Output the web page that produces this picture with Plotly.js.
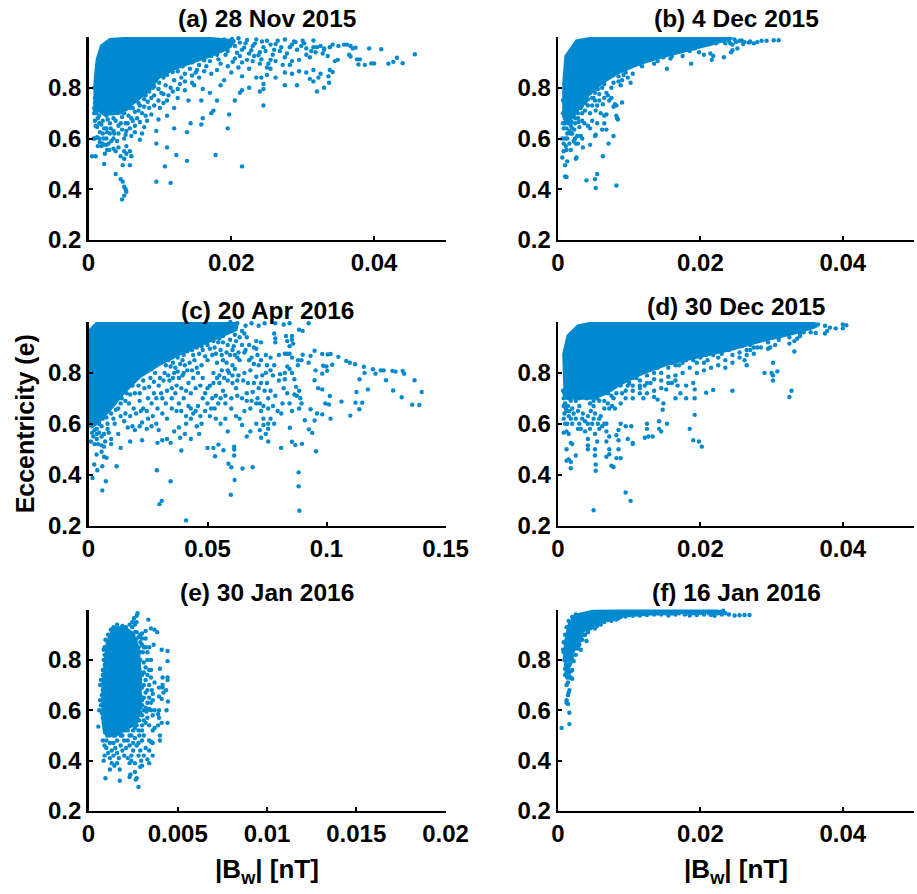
<!DOCTYPE html>
<html><head><meta charset="utf-8">
<script src="https://cdn.plot.ly/plotly-3.0.1.min.js"></script>
<style>html,body{margin:0;padding:0;background:#fff}</style></head>
<body><div id="chart" style="width:917px;height:894px"></div>
<script>
const titles=["(a) 28 Nov 2015","(b) 4 Dec 2015","(c) 20 Apr 2016","(d) 30 Dec 2015","(e) 30 Jan 2016","(f) 16 Jan 2016"];
const yTicks=[0.2,0.4,0.6,0.8];
const xTicksStd=[0,0.02,0.04], xLabelsStd=["0","0.02","0.04"];
const xTicksC=[0,0.05,0.1,0.15], xLabelsC=["0","0.05","0.1","0.15"];
const xTicksE=[0,0.005,0.01,0.015,0.02], xLabelsE=["0","0.005","0.01","0.015","0.02"];

// Saturated (fully overlapping) regions, outlines
const coreA=[[.0009,.72],[.0009,.82],[.0012,.91],[.0018,.965],[.003,.99],[.0063,.997],[.016,.997],[.0205,.985],[.0195,.955],[.017,.925],[.0145,.9],[.012,.875],[.0098,.84],[.0085,.79],[.0065,.745],[.0045,.7],[.0022,.695]];
const coreB=[[.0008,.68],[.0008,.818],[.0011,.924],[.0026,.985],[.005,.997],[.0245,.997],[.022,.975],[.0185,.95],[.015,.925],[.0115,.895],[.0085,.86],[.0062,.82],[.0042,.77],[.0026,.71],[.0014,.66]];
const coreC=[[.0008,.585],[.0034,.6],[.009,.655],[.0146,.72],[.0216,.785],[.03,.835],[.0385,.875],[.047,.91],[.0553,.945],[.062,.97],[.0625,.995],[.0035,.995],[.0008,.97]];
const coreD=[[.001,.7],[.0008,.874],[.0014,.946],[.0028,.985],[.005,.997],[.036,.997],[.036,.98],[.033,.955],[.0285,.925],[.024,.89],[.02,.865],[.016,.84],[.012,.8],[.009,.76],[.0068,.72],[.005,.7],[.0022,.7]];
const coreE=[[.0008,.56],[.0008,.7],[.00105,.87],[.0014,.925],[.00195,.93],[.0025,.905],[.0028,.84],[.0029,.74],[.0029,.62],[.0027,.55],[.0015,.5],[.0009,.51]];
const coreF=[[.0009,.79],[.00105,.872],[.0016,.945],[.0028,.98],[.005,.994],[.0097,.997],[.0225,.996],[.0222,.988],[.0167,.988],[.0106,.983],[.0078,.972],[.005,.94],[.0033,.91],[.0024,.86],[.0017,.8]];

const pointsA=[[.0457,.932],[.044,.897],[.0432,.918],[.0427,.902],[.042,.895],[.041,.952],[.04,.896],[.0396,.896],[.0393,.955],[.0387,.89],[.038,.912],[.0378,.892],[.0376,.912],[.0374,.958],[.037,.955],[.0367,.965],[.0367,.923],[.0365,.93],[.0362,.97],[.0358,.97],[.035,.965],[.0349,.91],[.0345,.905],[.0342,.97],[.0338,.96],[.033,.955],[.0335,.925],[.033,.95],[.0325,.965],[.032,.96],[.0315,.96],[.0312,.945],[.031,.92],[.0305,.93],[.03,.985],[.0298,.965],[.029,.98],[.0285,.97],[.0282,.96],[.0295,.91],[.0285,.905],[.0275,.92],[.027,.96],[.0265,.985],[.026,.95],[.0255,.97],[.025,.985],[.0245,.96],[.024,.94],[.0235,.99],[.023,.965],[.0225,.935],[.022,.975],[.0215,.95],[.021,.995],[.0205,.965],[.02,.985],[.0195,.945],[.019,.99],[.0185,.965],[.018,.93],[.0175,.96],[.017,.98],[.0165,.95],[.016,.925],[.0155,.965],[.015,.91],[.0255,.91],[.025,.88],[.024,.895],[.023,.905],[.0225,.875],[.0215,.9],[.021,.88],[.0205,.915],[.0195,.885],[.0185,.895],[.018,.87],[.017,.905],[.0165,.885],[.0155,.89],[.0145,.9],
[.0342,.862],[.0338,.87],[.0336,.845],[.0337,.82],[.0325,.855],[.0315,.87],[.031,.835],[.0305,.86],[.0295,.865],[.0292,.81],[.0285,.855],[.0275,.86],[.0275,.81],[.0262,.84],[.0255,.875],[.025,.85],[.0242,.84],[.0245,.815],[.0235,.84],[.024,.785],[.0245,.795],[.0245,.73],[.0225,.8],[.0215,.845],[.0215,.79],[.0212,.78],[.0205,.75],[.0197,.695],[.02,.86],[.019,.83],[.0185,.81],[.018,.75],[.0175,.71],[.0172,.7],[.017,.78],[.016,.795],[.0158,.75],[.016,.68],[.0158,.655],[.0195,.64],[.0215,.49],[.0178,.535],[.0143,.66],[.0138,.625],[.0138,.512],[.0123,.535],[.0115,.425],[.0107,.49],[.0095,.43],
[.033,.8],[.032,.785],[.0315,.825],[.0322,.84],
[.015,.86],[.0145,.82],[.014,.75],[.0135,.79],[.013,.84],[.0125,.76],[.012,.72],[.012,.64],[.0115,.8],[.011,.75],[.011,.69],[.011,.565],[.0105,.84],[.0102,.78],[.01,.72],[.0098,.675],[.0095,.63],[.0095,.58],[.009,.8],[.0088,.76],[.0085,.72],[.0082,.67],[.008,.81],[.0078,.755],[.0075,.7],[.0075,.62],[.0072,.595],[.007,.74],[.0068,.68],[.0065,.65],[.0062,.72],[.006,.68],[.006,.61],[.006,.53],[.0058,.55],[.0055,.74],[.0055,.66],[.0053,.63],[.0053,.57],[.005,.7],[.005,.6],[.005,.55],[.005,.41],[.0052,.4],[.0053,.39],[.005,.375],[.0048,.43],[.0047,.36],[.0048,.495],[.0058,.495],[.0045,.44],[.0038,.46],[.0022,.5],[.0045,.66],[.0042,.62],[.004,.7],[.004,.59],[.0038,.55],[.0035,.68],[.0035,.63],[.0035,.6],[.0035,.56],[.003,.71],[.003,.66],[.003,.62],[.0028,.58],[.0025,.69],[.0025,.64],[.0025,.6],[.0023,.54],[.002,.67],[.002,.62],[.002,.58],[.0015,.66],[.0015,.6],[.0013,.57],[.001,.65],[.0007,.6],[.001,.53],[.0005,.53],[.0012,.72],[.0008,.7],[.0018,.71],[.0015,.69]];
const denseA=[[.0145,.987],[.0152,.975],[.0163,.991],[.0172,.972],[.0182,.984],[.0192,.97],[.0201,.992],[.0212,.978],[.0222,.988],[.0233,.974],[.0243,.982],[.0262,.972],[.0275,.99],[.0288,.982],[.0302,.975],[.0315,.986],[.0148,.955],[.0158,.945],[.0168,.962],[.0178,.94],[.0188,.952],[.0198,.964],[.0208,.938],[.0218,.958],[.0228,.948],[.0238,.928],[.0248,.945],[.0258,.93],[.0268,.945],[.0278,.935],[.0292,.95],[.0305,.955],[.0318,.94],[.0328,.935],[.0136,.935],[.0142,.915],[.0152,.93],[.0162,.908],[.0172,.925],[.0182,.912],[.0192,.93],[.0202,.902],[.0212,.925],[.0222,.91],[.0232,.925],[.0242,.912],[.0252,.895],[.0262,.905],[.0272,.89],[.0282,.89],[.0128,.92],[.0122,.898],[.0132,.885],[.0142,.875],[.0152,.87],[.0162,.865],[.0172,.855],[.0112,.875],[.0118,.862],[.0125,.865],[.0135,.855],[.0145,.848],[.0155,.84],[.0098,.865],[.0104,.858],[.011,.85],[.012,.83],[.0128,.815],[.0135,.825],[.0148,.81],[.0095,.84],[.0099,.82],[.0108,.81],[.0118,.785],[.0125,.795],[.0088,.825],[.0092,.805],[.0098,.795],[.0105,.775],[.0112,.77],[.0075,.78],[.008,.77],[.0085,.785],[.0092,.77],[.0098,.75],[.0105,.74],[.0068,.76],[.0072,.73],[.0078,.725],[.0083,.745],[.0092,.73],[.0062,.75],[.0058,.72],[.0065,.705],[.007,.71],[.008,.69],[.0088,.695],[.0048,.73],[.0052,.715],[.0056,.69],[.0062,.67],[.0072,.665],[.0078,.645],[.0038,.72],[.0042,.705],[.0047,.685],[.0052,.66],[.0058,.64],[.0065,.625],[.0028,.72],[.0033,.7],[.0038,.67],[.0042,.65],[.0047,.635],[.0052,.615],[.0018,.73],[.0022,.705],[.0027,.675],[.0031,.64],[.0036,.62],[.0011,.7],[.0013,.68],[.0018,.655],[.0022,.64],[.0026,.625],[.0009,.67],[.0012,.645],[.0016,.625],[.0021,.6],[.0025,.575],[.0016,.585],[.0018,.57],[.0021,.575],[.0032,.59],[.0009,.6],[.0012,.605],[.0042,.565],[.0045,.53],[.005,.52],[.0053,.54],[.0026,.555],[.0029,.555],[.0009,.76],[.0008,.8],[.0009,.74],[.0008,.72],[.0009,.71]];

const pointsB=[[.031,.987],[.0303,.987],[.0293,.985],[.0286,.985],[.028,.98],[.0275,.975],[.027,.982],[.0262,.98],[.026,.972],[.0255,.985],[.025,.98],[.0245,.97],[.024,.985],[.0235,.975],[.0252,.955],[.0245,.948],[.0243,.94],[.0233,.92],[.0218,.925],[.0216,.91],[.0214,.935],[.0205,.93],[.0198,.94],[.0192,.955],[.0185,.945],[.0187,.895],[.0175,.925],[.0168,.95],[.016,.925],[.0158,.915],[.0153,.875],[.0148,.92],[.014,.905],[.0135,.895],[.0128,.91],[.012,.905],[.0118,.885],[.0105,.855],[.0102,.82],[.0098,.84],[.0095,.86],[.009,.83],[.0088,.81],[.0085,.825],[.008,.86],[.0078,.82],[.0075,.8],[.0072,.845],[.0068,.78],[.0065,.815],[.0055,.87],[.0052,.84],[.009,.742],[.0082,.73],[.0084,.675],[.0083,.68],[.0082,.69],[.008,.735],[.0078,.725],[.0075,.76],[.0072,.75],[.007,.77],[.0068,.695],[.0065,.69],[.0063,.735],[.006,.7],[.0058,.75],[.0055,.73],[.0053,.71],[.0052,.78],[.005,.76],[.0048,.73],[.0045,.78],[.0042,.73],[.004,.75],[.0038,.71],[.0036,.79],[.0034,.67],[.003,.75],[.0028,.68],[.0026,.71],[.0024,.66],[.002,.7],[.0018,.65],[.0015,.68],[.001,.66],[.0008,.64],[.0012,.64],[.0065,.66],[.0062,.635],[.0055,.66],[.0053,.615],[.0052,.61],[.0048,.67],[.0045,.64],[.0042,.65],[.0037,.66],[.0034,.6],[.0032,.61],[.003,.645],[.0028,.58],[.0027,.61],[.0025,.58],[.0024,.6],[.0022,.59],[.002,.64],[.0018,.62],[.0016,.58],[.0013,.6],[.0011,.57],[.001,.6],[.0008,.58],[.0006,.6],[.0008,.55],[.0006,.525],[.0012,.555],[.0018,.555],[.0025,.52],[.0026,.525],[.0013,.51],[.001,.495],[.001,.45],[.0012,.448],[.0035,.565],[.0045,.575],[.0068,.635],[.0078,.61],[.0071,.58],[.0063,.53],[.0082,.415],[.0055,.46],[.0052,.44],[.004,.435],[.0053,.405],[.0022,.69],[.0032,.72],[.0045,.7]];
const denseB=[[.0248,.99],[.0258,.986],[.0268,.978],[.0242,.975],[.0232,.985],[.0222,.975],[.0212,.972],[.0205,.985],[.0198,.968],[.0188,.958],[.0178,.965],[.0172,.945],[.0165,.958],[.0158,.94],[.015,.935],[.0143,.925],[.0136,.918],[.0128,.925],[.0122,.915],[.0115,.895],[.0108,.9],[.01,.885],[.0095,.895],[.0088,.875],[.0082,.87],[.0078,.85],[.0072,.868],[.0068,.85],[.0092,.85],[.0085,.845],[.0062,.84],[.0058,.82],[.0062,.8],[.0056,.795],[.0052,.81],[.0048,.8],[.0045,.815],[.0042,.775],[.0038,.77],[.0034,.76],[.0032,.75],[.003,.725],[.0026,.73],[.0022,.715],[.0018,.7],[.0014,.665],[.0011,.68],[.0009,.66],[.0034,.73],[.0038,.74],[.0028,.7],[.0048,.76],[.0042,.755],[.0052,.75],[.0058,.775],[.0065,.76],[.0034,.7],[.0029,.665],[.0023,.635],[.002,.62],[.0016,.63],[.0013,.62],[.0024,.68],[.0019,.665],[.0007,.7],[.0007,.66],[.0007,.75]];

const pointsC=[[.14,.725],[.139,.674],[.136,.675],[.137,.771],[.1316,.704],[.128,.731],[.1326,.797],[.132,.808],[.129,.805],[.1277,.808],[.125,.771],[.124,.81],[.1228,.81],[.1206,.797],[.1195,.814],[.1174,.735],[.116,.8],[.1157,.824],[.1139,.775],[.1126,.725],[.115,.683],[.1122,.683],[.1138,.657],[.11,.632],[.1063,.687],[.112,.834],[.1098,.84],[.1083,.847],[.105,.863],[.1017,.874],[.1005,.872],[.0982,.874],[.095,.887],[.0933,.867],[.09,.871],[.1024,.832],[.1,.825],[.0986,.828],[.1003,.808],[.0982,.797],[.0954,.81],[.095,.771],[.0982,.735],[.0965,.74],[.1014,.709],[.101,.676],[.0995,.68],[.1017,.62],[.0982,.637],[.096,.64],[.0933,.657],[.0909,.614],[.095,.613],[.0926,.578],[.094,.564],[.0956,.492],[.0897,.521],[.0869,.516],[.0855,.529],[.0846,.584],[.0809,.505],[.0883,.409],[.0883,.354],[.0886,.258],[.069,.429],[.0647,.424],[.0598,.321],[.0614,.379],[.06,.429],[.0588,.443],[.0612,.475],[.0612,.499],[.0612,.51],[.0532,.472],[.0525,.505],[.05,.505],[.0546,.518],[.0567,.496],[.041,.22],[.0345,.374],[.0308,.297],[.0298,.284],[.0287,.417],[.0073,.374],[.0058,.338],[.0017,.387],[.0037,.417],[.0024,.44],[.0058,.433],[.0118,.433],[.0034,.479],[.0076,.466],[.0065,.47],[.0055,.49],
[.0596,1],[.0625,.995],[.066,.985],[.0685,.995],[.0715,.985],[.074,.995],[.0785,.995],[.082,.99],[.0845,.995],[.0885,.97],[.0925,.995],[.09,.965],[.0605,.97],[.0615,.95],[.0655,.955],[.0665,.94],[.0705,.925],[.0705,.895],[.0725,.92],[.078,.955],[.0785,.935],[.0785,.92],[.083,.945],[.0835,.925],[.0845,.905],[.0855,.93],[.0855,.945],[.086,.915],[.08,.87],[.0825,.875],[.0835,.875],[.0845,.875],[.0855,.86],[.088,.85],[.0895,.85],[.0925,.84],[.088,.83],[.0835,.825],[.0845,.815],[.0825,.8],[.0805,.795],[.078,.83],[.0765,.86],[.0745,.87],[.0715,.83],[.0695,.835],[.0675,.85],[.0655,.88],[.063,.88],[.0615,.87],[.0595,.87],[.058,.88],[.0565,.92],[.0555,.89],[.0545,.92],[.053,.9],[.052,.94],[.05,.91],[.0635,.85],[.0605,.83],[.058,.84],[.0565,.85],[.054,.84],[.052,.87],[.05,.85],[.048,.89],[.046,.92],[.044,.87],[.042,.9],[.04,.87],[.0385,.88],[.0365,.88],[.035,.86],[.0315,.86],[.0525,.8],[.055,.79],[.057,.78],[.059,.8],[.0615,.815],[.063,.79],[.0655,.8],[.068,.81],[.0705,.785],[.073,.79],[.075,.76],[.0775,.79],[.0825,.775],[.0855,.8],[.0865,.775],[.0872,.745],[.0865,.715],[.0885,.73],[.0875,.71],[.089,.7],[.0835,.72],[.082,.74],[.08,.77],[.0785,.71],[.0765,.73],[.074,.73],[.0715,.74],[.069,.725],[.0665,.72],[.0645,.7],[.062,.74],[.0605,.76],[.0585,.77],[.0565,.73],[.055,.76],[.0535,.71],[.052,.7],[.05,.74],[.048,.78],[.046,.8],[.044,.78],[.042,.76],[.04,.8],[.038,.78],[.036,.8],[.034,.77],[.032,.8],[.03,.78],[.028,.8],[.026,.78],[.023,.77],[.021,.75],[.0185,.75],[.016,.72],[.014,.7],
[.0895,.68],[.0885,.66],[.072,.68],[.0735,.67],[.0755,.66],[.0705,.68],[.068,.66],[.0655,.65],[.0635,.62],[.0645,.595],[.0665,.55],[.0705,.6],[.072,.575],[.0725,.65],[.0735,.62],[.0735,.595],[.0745,.56],[.0755,.53],[.0725,.545],[.068,.57],[.062,.63],[.06,.66],[.0575,.68],[.0555,.7],[.053,.66],[.051,.63],[.05,.68],[.048,.7],[.046,.67],[.044,.64],[.042,.67],[.04,.7],[.038,.68],[.0365,.72],[.035,.7],[.0325,.68],[.0305,.72],[.029,.66],[.0275,.72],[.025,.7],[.023,.66],[.0215,.69],[.019,.66],[.017,.68],[.0155,.64],[.0125,.66],[.0105,.62],[.008,.6],[.006,.62],[.0045,.6],[.0035,.58],[.002,.55],[.0035,.54],[.0055,.55],[.0065,.56],[.008,.58],[.0095,.54],[.0125,.56],[.0165,.585],[.0185,.59],[.0195,.575],[.0215,.59],[.0225,.605],[.0245,.58],[.0265,.59],[.0285,.6],[.0295,.575],[.0225,.535],[.0175,.53],[.0135,.505],[.0095,.52],[.0065,.51],[.029,.525],[.031,.535],[.033,.54],[.0345,.525],[.036,.57],[.038,.585],[.041,.6],[.043,.62],[.0455,.59],[.0475,.6],[.0465,.56],[.0405,.56],[.0385,.545],[.043,.54],[.039,.495],[.0535,.62],[.0575,.62],[.0555,.6],[.0585,.57]];
const denseC=[[.057,.99],[.0555,.975],[.058,.965],[.054,.958],[.0565,.945],[.0595,.93],[.062,.925],[.0635,.94],[.0645,.965],[.061,.905],[.0585,.91],[.055,.935],[.0525,.925],[.049,.93],[.0475,.905],[.0455,.9],[.051,.895],[.0535,.875],[.056,.87],[.0605,.89],[.0625,.86],[.0435,.89],[.0415,.885],[.0395,.85],[.0375,.86],[.0355,.84],[.0335,.85],[.0465,.875],[.049,.865],[.0445,.85],[.0425,.84],[.0405,.83],[.0385,.835],[.0365,.82],[.0345,.825],[.0325,.83],[.0305,.84],[.0285,.83],[.0265,.815],[.0245,.81],[.0225,.8],[.0205,.79],[.0185,.775],[.0165,.755],[.0145,.73],[.0125,.71],[.0105,.68],[.0085,.655],[.0065,.64],[.0045,.615],[.0475,.83],[.0455,.82],[.0435,.81],[.0415,.81],[.0395,.79],[.0375,.805],[.0355,.78],[.0335,.79],[.0315,.77],[.0295,.75],[.0275,.765],[.0255,.745],[.0235,.74],[.0215,.72],[.0195,.72],[.0175,.715],[.0155,.69],[.0135,.68],[.0115,.655],[.0095,.64],[.0075,.625],[.0055,.59],[.0025,.575],[.0035,.56],[.0045,.565],[.0015,.565],[.001,.53],[.0025,.52],[.004,.52],[.0055,.515],[.007,.53],[.0085,.565],[.011,.6],[.0135,.63],[.015,.61],[.0175,.63],[.02,.64],[.022,.65],[.0245,.65],[.0265,.68],[.0285,.7],[.031,.7],[.033,.73],[.035,.74],[.037,.75],[.039,.74],[.041,.73],[.043,.72],[.045,.74],[.047,.75],[.049,.72],[.051,.75],[.0525,.76],[.054,.78],[.056,.81],[.0585,.81],[.0605,.79],[.0625,.77],[.065,.77],[.067,.76],[.0695,.76],[.0625,.71],[.06,.7],[.0575,.71],[.0545,.68],[.0515,.66],[.049,.65],[.047,.63],[.045,.65],[.043,.66],[.041,.63],[.039,.65],[.037,.65],[.035,.66],[.033,.62],[.031,.64],[.027,.63],[.025,.62],[.0665,.69],[.0685,.69],[.071,.7],[.0755,.7],[.0775,.67],[.0795,.65],[.0765,.62],[.0755,.6],[.078,.6],[.0755,.58],[.081,.64],[.0815,.68],[.0845,.68],[.0855,.65],[.0725,.76],[.0745,.8],[.0765,.81],[.0685,.86],[.071,.87],[.0725,.85],[.075,.83],[.0695,.9],[.0675,.91],[.066,.89],[.0645,.91]];

const pointsD=[[.0405,.987],[.04,.99],[.04,.975],[.039,.975],[.0382,.978],[.0375,.985],[.0362,.985],[.0355,.99],[.0355,.96],[.0362,.957],[.0375,.955],[.0378,.965],[.0345,.96],[.034,.955],[.0336,.935],[.0325,.94],[.0325,.915],[.0332,.925],[.0332,.884],[.0325,.96],[.031,.93],[.0305,.91],[.0298,.9],[.0295,.92],[.0285,.93],[.028,.9],[.0275,.875],[.027,.89],[.0265,.87],[.0262,.85],[.0265,.83],[.0255,.86],[.0245,.84],[.0235,.85],[.0225,.86],[.0215,.89],[.0205,.84],[.021,.85],[.0195,.84],[.0185,.86],[.0175,.84],[.0165,.83],[.0155,.82],[.0145,.8],[.0135,.8],[.0125,.79],[.0115,.77],[.029,.8],[.0302,.84],[.03,.8],[.0302,.79],[.0302,.77],[.0308,.806],[.0325,.705],[.0328,.73],[.0245,.73],[.0218,.733],[.0208,.722],[.019,.76],[.0192,.735],[.0192,.7],[.018,.75],[.018,.7],[.0172,.72],[.0168,.75],[.0165,.7],[.016,.76],[.0152,.735],[.0148,.68],[.014,.695],[.0135,.705],[.013,.76],[.0125,.72],[.012,.7],[.0115,.74],[.011,.78],[.0105,.7],[.01,.76],[.0095,.7],[.009,.72],[.0088,.68],[.0085,.76],[.008,.66],[.0078,.7],[.0075,.74],[.007,.68],[.0065,.66],[.0062,.72],[.006,.63],[.0058,.62],[.0055,.7],[.005,.67],[.005,.62],[.0048,.6],[.0045,.68],[.0042,.63],[.004,.7],[.0035,.64],[.003,.67],[.003,.6],[.0025,.62],[.0025,.69],[.002,.66],[.002,.6],[.0015,.63],[.0012,.65],[.001,.68],[.0008,.7],[.001,.6],[.0012,.57],[.0008,.565],[.0015,.56],[.0018,.62],[.0018,.69],
[.0192,.635],[.0185,.58],[.019,.535],[.0202,.51],[.0198,.53],[.0147,.655],[.0153,.6],[.0142,.61],[.0142,.58],[.0145,.57],[.0125,.6],[.0133,.55],[.0127,.55],[.0122,.545],[.0125,.58],[.0105,.52],[.0098,.54],[.0105,.525],[.0103,.59],[.0095,.59],[.0088,.6],[.0085,.575],[.0082,.555],[.0085,.535],[.0085,.5],[.0082,.465],[.0075,.435],[.0072,.5],[.0072,.55],[.0072,.48],[.0068,.6],[.0068,.57],[.0068,.53],[.0068,.47],[.0055,.53],[.0052,.5],[.0052,.475],[.0042,.54],[.0042,.515],[.0042,.5],[.0018,.525],[.002,.52],[.0012,.5],[.0015,.46],[.0018,.45],[.0012,.455],[.0018,.425],[.0025,.475],[.0053,.44],[.0053,.415],[.0078,.43],[.0088,.465],[.0095,.33],[.0102,.297],[.005,.26]];
const denseD=[[.0365,.99],[.0345,.985],[.0352,.975],[.0335,.97],[.034,.945],[.032,.955],[.0312,.945],[.0302,.94],[.029,.935],[.0278,.925],[.027,.91],[.0258,.905],[.0248,.9],[.024,.89],[.023,.875],[.0218,.87],[.0208,.87],[.02,.86],[.019,.85],[.018,.85],[.017,.83],[.016,.84],[.015,.84],[.014,.82],[.0133,.82],[.0122,.81],[.0112,.805],[.0105,.78],[.0098,.785],[.0092,.77],[.0098,.75],[.0105,.75],[.0115,.75],[.0125,.76],[.0135,.775],[.0145,.77],[.0155,.785],[.0165,.79],[.0175,.8],[.0185,.82],[.0195,.8],[.0205,.81],[.0215,.82],[.0225,.83],[.0235,.82],[.0245,.87],[.0255,.88],[.0265,.89],[.0275,.9],[.0285,.9],[.0295,.895],[.0088,.75],[.0082,.72],[.0075,.71],[.007,.72],[.0065,.73],[.0058,.735],[.0052,.72],[.0045,.73],[.0038,.74],[.0032,.73],[.0025,.74],[.0018,.735],[.0012,.73],[.0009,.72],[.0007,.73],[.0035,.71],[.003,.7],[.0025,.71],[.002,.72],[.0015,.7],[.001,.71],[.0045,.71],[.005,.69],[.0058,.69],[.0065,.69],[.0072,.66],[.0076,.67],[.0014,.67],[.0016,.65],[.0011,.66],[.0009,.64],[.0022,.64],[.0028,.65],[.0034,.62],[.0038,.61],[.0042,.6],[.0046,.65],[.0052,.64],[.0056,.6],[.0062,.59],[.0065,.6],[.0028,.58],[.0032,.58],[.0038,.57],[.0008,.62],[.0013,.6],[.0008,.67],[.0045,.58],[.0052,.56],[.0058,.58],[.0095,.73],[.0105,.73],[.0115,.72],[.0122,.75],[.0135,.73],[.0145,.74],[.0155,.76],[.0165,.77]];

const pointsE=[[.00443,.835],[.00443,.795],[.00443,.73],[.00443,.72],[.00435,.68],[.00445,.635],[.00437,.6],[.00443,.55],[.0041,.84],[.004,.765],[.00415,.73],[.00415,.7],[.00415,.69],[.00395,.69],[.00395,.655],[.0042,.67],[.0041,.645],[.00395,.6],[.0039,.585],[.00395,.57],[.0041,.55],[.0039,.54],[.0036,.52],[.0034,.54],[.0037,.53],[.004,.5],[.004,.48],[.0036,.47],[.0035,.475],[.0034,.48],[.00385,.91],[.0037,.92],[.0035,.925],[.00335,.96],[.00365,.86],[.0034,.85],[.0032,.885],[.003,.885],[.0032,.915],[.003,.905],[.00275,.985],[.0027,.975],[.00255,.965],[.00245,.95],[.0033,.8],[.0034,.76],[.0035,.73],[.0037,.71],[.0034,.7],[.00355,.68],[.0036,.665],[.0033,.68],[.0035,.63],[.0037,.6],[.0034,.605],[.0036,.58],[.0033,.57],[.00305,.83],[.0031,.79],[.003,.74],[.0032,.72],[.003,.69],[.0031,.65],[.003,.62],[.00325,.595],[.0031,.56],[.003,.54],[.0028,.85],[.0029,.8],[.0028,.76],[.00285,.71],[.0028,.68],[.0028,.64],[.0029,.59],[.00285,.56],[.0031,.5],[.003,.48],[.003,.52],[.00285,.5],[.0028,.52],[.0028,.47],[.0032,.45],[.0034,.44],[.0036,.42],[.0033,.405],[.0034,.39],[.0031,.42],[.0029,.44],[.0028,.42],[.0027,.46],[.0026,.49],[.0025,.52],[.0025,.47],[.0025,.44],[.0024,.42],[.0023,.5],[.0023,.46],[.0023,.39],[.0022,.48],[.0021,.45],[.002,.52],[.002,.48],[.002,.42],[.0019,.44],[.0018,.5],[.0018,.46],[.0017,.41],[.0016,.43],[.0016,.48],[.0015,.45],[.0014,.5],[.0014,.47],[.0014,.42],[.0013,.39],[.0013,.44],[.0012,.47],[.0012,.5],[.0011,.43],[.001,.45],[.001,.48],[.001,.51],[.0009,.46],[.0009,.42],[.0008,.48],[.00085,.4],[.00055,.535],[.0006,.6],[.00065,.64],[.00065,.7],[.0007,.72],[.0008,.76],[.00085,.8],[.0012,.41],[.00145,.38],[.0016,.39],[.00175,.365],[.0012,.365],[.00095,.33],[.00175,.32],[.0023,.335],[.00235,.345],[.0026,.355],[.00265,.325],[.0027,.33],[.0028,.295],[.0029,.375],[.003,.38],[.00295,.4],[.0026,.39],[.0022,.41],[.0024,.4]];
const denseE=[[.0009,.85],[.00095,.88],[.0011,.9],[.00125,.92],[.0014,.93],[.0016,.94],[.0019,.935],[.0021,.93],[.0023,.94],[.00245,.93],[.0026,.91],[.00265,.88],[.0027,.85],[.0025,.9],[.00275,.82],[.0029,.83],[.0027,.79],[.00265,.77],[.0029,.75],[.0027,.72],[.0029,.72],[.0028,.7],[.0029,.66],[.0028,.62],[.003,.64],[.0029,.61],[.0031,.6],[.0028,.58],[.0026,.56],[.0027,.54],[.0024,.54],[.0021,.53],[.0018,.525],[.0016,.52],[.0013,.525],[.0011,.53],[.00095,.55],[.0008,.57],[.00075,.59],[.0007,.62],[.00075,.66],[.0008,.68],[.00075,.72],[.0008,.74],[.0009,.78],[.00085,.76],[.0009,.82],[.00085,.84],[.001,.53],[.00105,.5],[.0012,.52],[.0015,.5],[.0017,.52],[.0019,.5],[.0022,.52],[.0024,.5],[.0026,.53],[.0031,.75],[.0032,.77],[.0033,.74],[.0035,.76],[.0031,.7],[.0032,.67],[.0033,.63],[.0032,.61],[.0034,.65],[.0036,.64],[.0035,.6],[.0032,.55],[.003,.58],[.0033,.83],[.0032,.85],[.0035,.8],[.0031,.85],[.003,.86],[.0029,.87],[.0028,.89],[.0027,.91],[.0029,.9],[.0026,.94],[.0025,.95],[.0027,.95]];

const pointsF=[[.0269,.978],[.0262,.978],[.0255,.977],[.0248,.976],[.024,.98],[.0235,.985],[.0232,.995],[.023,.98],[.0225,.985],[.022,.975],[.0215,.978],[.0205,.98],[.0195,.978],[.0185,.976],[.0178,.98],[.0165,.98],[.0155,.976],[.0145,.98],[.0135,.98],[.0125,.978],[.0115,.976],[.0105,.975],[.0095,.972],[.0088,.97],[.0082,.96],[.0075,.955],[.0065,.95],[.006,.94],[.0052,.925],[.0048,.93],[.0042,.91],[.004,.875],[.0038,.9],[.0034,.88],[.003,.86],[.0028,.845],[.0032,.84],[.0025,.82],[.002,.8],[.0022,.795],[.002,.76],[.0018,.73],[.002,.725],[.0012,.75],[.0012,.76],[.001,.74],[.0014,.71],[.0012,.7],[.0016,.68],[.0015,.67],[.0014,.66],[.0012,.64],[.0012,.63],[.0014,.625],[.0016,.59],[.0016,.545],[.0005,.53],[.0009,.8],[.0008,.83],[.0011,.78],[.0015,.76]];
const denseF=[[.0228,.99],[.022,.985],[.0212,.985],[.02,.986],[.019,.985],[.018,.984],[.017,.985],[.016,.984],[.015,.985],[.014,.984],[.013,.984],[.012,.982],[.011,.98],[.01,.978],[.009,.975],[.0085,.965],[.0078,.962],[.007,.958],[.0065,.955],[.0058,.948],[.0055,.935],[.0045,.925],[.0042,.92],[.0036,.9],[.0032,.89],[.003,.875],[.0026,.87],[.0028,.855],[.0024,.845],[.0021,.835],[.002,.815],[.0017,.785],[.0015,.775],[.0012,.78],[.001,.765],[.0018,.755],[.0015,.745],[.0016,.73],[.0013,.73],[.001,.81],[.0007,.84],[.0008,.87],[.001,.9],[.0012,.93],[.0015,.955],[.002,.97],[.0025,.98]];

const panels=[
 {core:coreA,pts:pointsA.concat(denseA),range:[0,.05],tv:xTicksStd,tt:xLabelsStd,l:88.5,r:445.5,t:37,b:240},
 {core:coreB,pts:pointsB.concat(denseB),range:[0,.05],tv:xTicksStd,tt:xLabelsStd,l:558,r:914,t:37,b:240},
 {core:coreC,pts:pointsC.concat(denseC),range:[0,.15],tv:xTicksC,tt:xLabelsC,l:88.5,r:445.5,t:322,b:525.5},
 {core:coreD,pts:pointsD.concat(denseD),range:[0,.05],tv:xTicksStd,tt:xLabelsStd,l:558,r:914,t:322,b:525.5},
 {core:coreE,pts:pointsE.concat(denseE),range:[0,.02],tv:xTicksE,tt:xLabelsE,l:88.5,r:445.5,t:609.5,b:811},
 {core:coreF,pts:pointsF.concat(denseF),range:[0,.05],tv:xTicksStd,tt:xLabelsStd,l:558,r:914,t:609.5,b:811}];
const titleY=[19,19,310,306,592,592];
const color="#0089CF";
const W=917,H=894;
const bold={family:"Liberation Sans, Arial, sans-serif",size:24,color:"#000",weight:700};
const traces=[],layout={width:W,height:H,margin:{l:0,r:0,t:0,b:0},showlegend:false,paper_bgcolor:"#fff",plot_bgcolor:"#fff",annotations:[]};
panels.forEach((p,i)=>{
  const n=i+1,sfx=n===1?"":String(n);
  const xa="x"+sfx,ya="y"+sfx;
  traces.push({type:"scatter",mode:"lines",x:p.core.map(d=>d[0]).concat(p.core[0][0]),y:p.core.map(d=>d[1]).concat(p.core[0][1]),fill:"toself",fillcolor:color,line:{color:color,width:3},xaxis:xa,yaxis:ya,hoverinfo:"skip"});
  traces.push({type:"scatter",mode:"markers",x:p.pts.map(d=>d[0]),y:p.pts.map(d=>d[1]),marker:{color:color,size:4.4,line:{width:0}},xaxis:xa,yaxis:ya,cliponaxis:false});
  const xAxis={domain:[p.l/W,p.r/W],range:p.range,anchor:ya,tickmode:"array",tickvals:p.tv,ticktext:p.tt,ticks:"inside",ticklen:4,tickwidth:2,tickcolor:"#000",showgrid:false,zeroline:false,showline:true,linecolor:"#000",linewidth:2.4,tickfont:bold};
  if(i>=4) xAxis.title={text:"|B<sub>w</sub>| [nT]",font:Object.assign({},bold,{size:26}),standoff:14};
  const yAxis={domain:[1-p.b/H,1-p.t/H],range:[.2,1],anchor:xa,tickmode:"array",tickvals:yTicks,ticktext:yTicks.map(v=>v.toFixed(1)),ticks:"inside",ticklen:4,tickwidth:2,tickcolor:"#000",showgrid:false,zeroline:false,showline:true,linecolor:"#000",linewidth:2.4,tickfont:bold};
  if(i===2) yAxis.title={text:"Eccentricity (e)",font:Object.assign({},bold,{size:25}),standoff:6};
  layout["xaxis"+sfx]=xAxis;
  layout["yaxis"+sfx]=yAxis;
  layout.annotations.push({text:titles[i],xref:"paper",yref:"paper",x:(p.l+p.r)/2/W,y:1-titleY[i]/H,xanchor:"center",yanchor:"middle",showarrow:false,font:Object.assign({},bold,{size:24.5})});
});
Plotly.newPlot("chart",traces,layout,{staticPlot:true,displayModeBar:false});
</script></body></html>
